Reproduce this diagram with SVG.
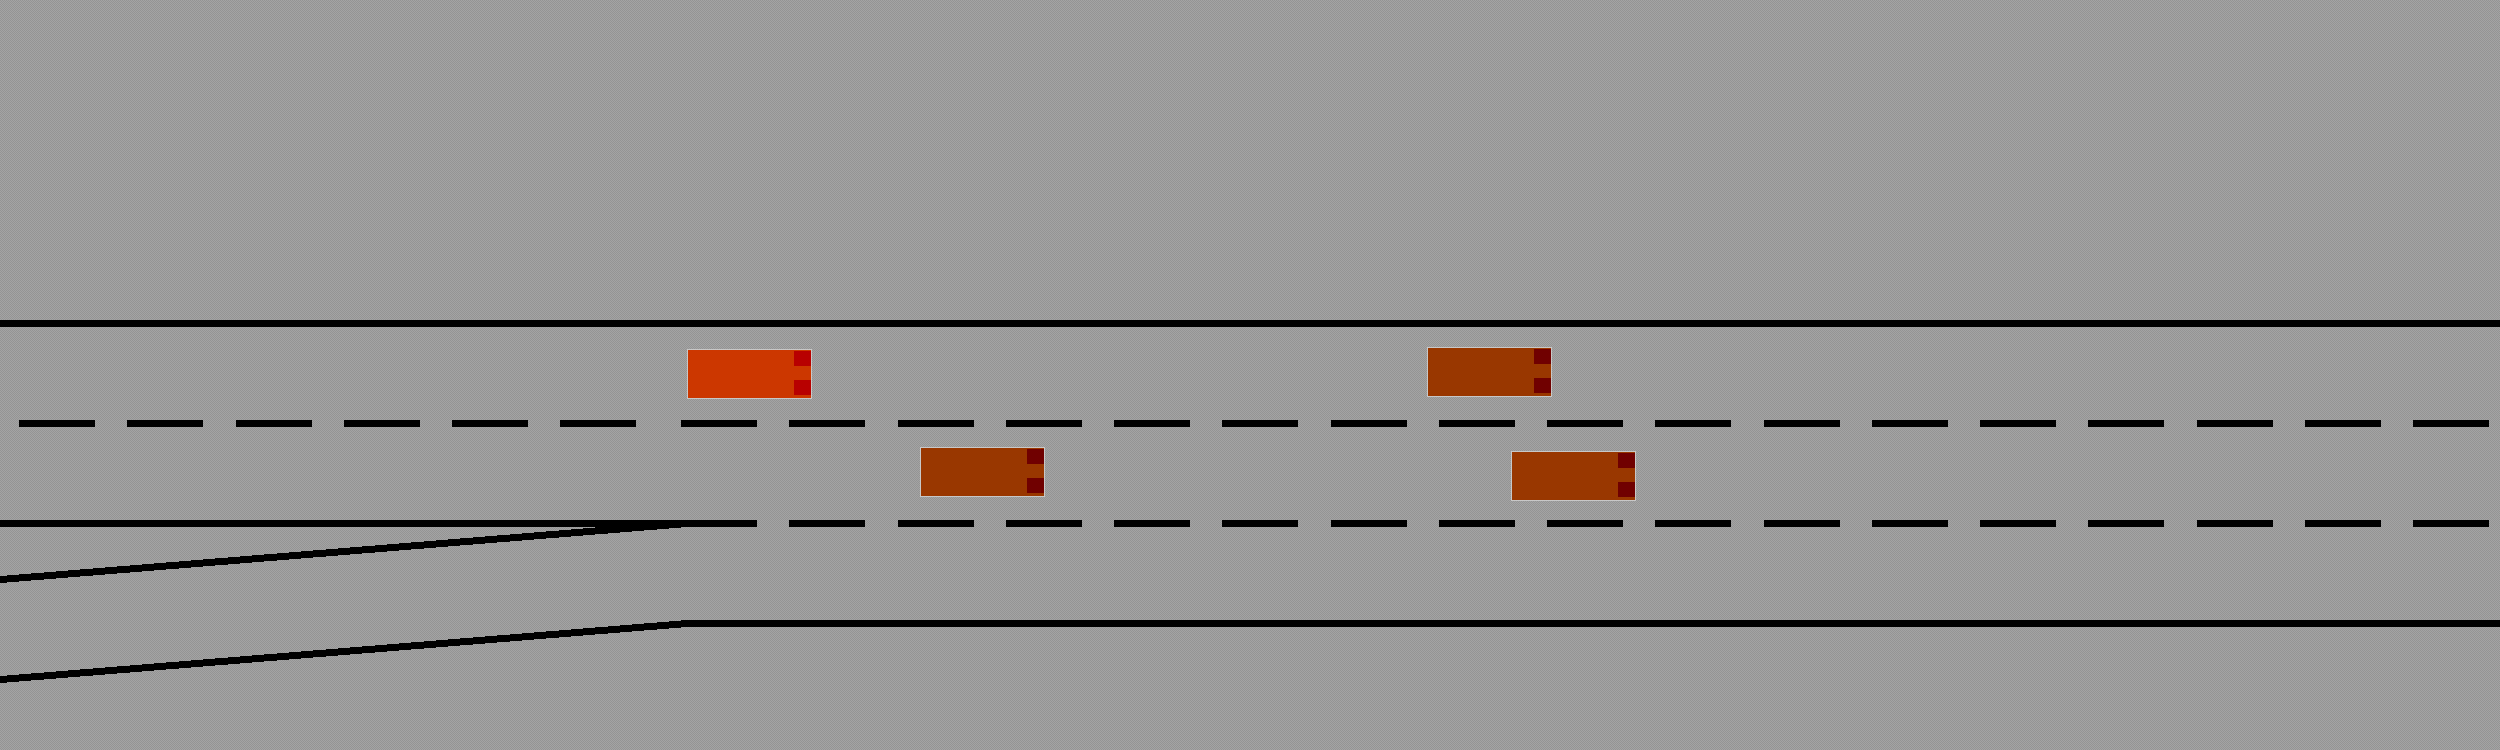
<svg xmlns="http://www.w3.org/2000/svg" width="2500" height="750" viewBox="0 0 2500 750">
<defs>
<style>
.line{fill:#000;shape-rendering:crispEdges}
.dash{stroke:#000;stroke-width:7;fill:none;stroke-dasharray:76 32.25;shape-rendering:crispEdges}
.body{stroke:#c8c8c8;stroke-width:1;shape-rendering:crispEdges}
.lamp{shape-rendering:crispEdges}
.red{fill:#cc3700}.brown{fill:#993700}
.lred{fill:#b80000}.ldark{fill:#700000}
</style>
<pattern id="ground" width="2" height="2" patternUnits="userSpaceOnUse">
<rect width="2" height="2" fill="#a4a4a4" shape-rendering="crispEdges"/>
<rect width="1" height="1" fill="#949494" shape-rendering="crispEdges"/>
<rect x="1" y="1" width="1" height="1" fill="#949494" shape-rendering="crispEdges"/>
</pattern>
<g id="car"><rect class="body" x="0.5" y="0.5" width="124" height="49"/></g>
</defs>
<rect width="2500" height="750" fill="url(#ground)"/>
<g id="connectors">
<rect class="line" x="0" y="320" width="2500" height="7"/>
<path class="dash" d="M19 423.5H636"/>
<path class="dash" d="M681 423.5H2490"/>
<rect class="line" x="0" y="520" width="681" height="7"/>
<path class="dash" d="M681 523.5H2490"/>
<rect class="line" x="681" y="620" width="1819" height="7"/>
<polygon class="line" points="0,576.07 681,520.52 681,527.52 0,583.07"/>
<polygon class="line" points="0,676.07 681,620.52 681,627.52 0,683.07"/>
</g>
<g id="car-ego" transform="translate(687 349)"><use href="#car" class="red"/><rect class="lamp lred" x="107" y="2" width="17" height="15"/><rect class="lamp lred" x="107" y="31" width="17" height="15"/></g>
<g id="car-1" transform="translate(920 447)"><use href="#car" class="brown"/><rect class="lamp ldark" x="107" y="2" width="17" height="15"/><rect class="lamp ldark" x="107" y="31" width="17" height="15"/></g>
<g id="car-2" transform="translate(1427 347)"><use href="#car" class="brown"/><rect class="lamp ldark" x="107" y="2" width="17" height="15"/><rect class="lamp ldark" x="107" y="31" width="17" height="15"/></g>
<g id="car-3" transform="translate(1511 451)"><use href="#car" class="brown"/><rect class="lamp ldark" x="107" y="2" width="17" height="15"/><rect class="lamp ldark" x="107" y="31" width="17" height="15"/></g>
</svg>
